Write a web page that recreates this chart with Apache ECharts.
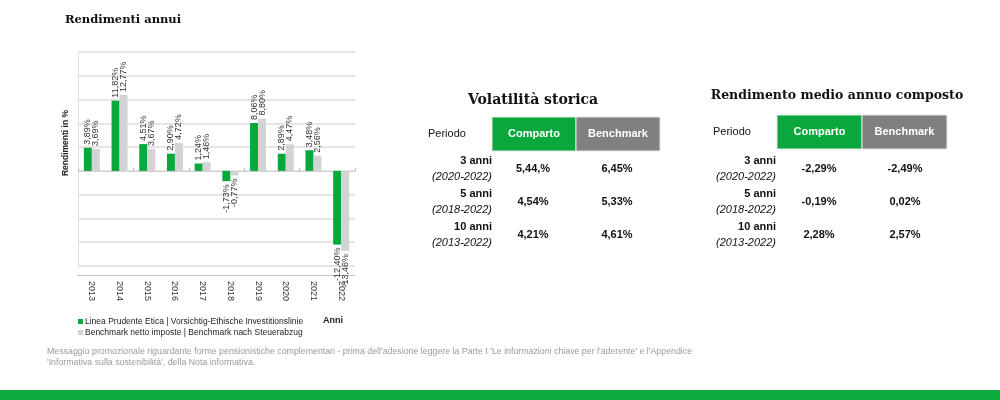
<!DOCTYPE html>
<html><head><meta charset="utf-8">
<script src="https://cdn.jsdelivr.net/npm/echarts@6/dist/echarts.min.js"></script>
<style>html,body{margin:0;padding:0;background:#fff}#c{width:1000px;height:400px}</style>
</head><body><div id="c"></div>
<script>
const years = ['2013','2014','2015','2016','2017','2018','2019','2020','2021','2022'];
const comparto = [3.89, 11.82, 4.51, 2.90, 1.24, -1.73, 8.06, 2.89, 3.48, -12.40];
const benchmark = [3.69, 12.77, 3.67, 4.72, 1.46, -0.77, 8.80, 4.47, 2.56, -13.46];
const seriesNames = ['Linea Prudente Etica | Vorsichtig-Ethische Investitionslinie', 'Benchmark netto imposte | Benchmark nach Steuerabzug'];

const periods = ['3 anni', '5 anni', '10 anni'];
const ranges = ['(2020-2022)', '(2018-2022)', '(2013-2022)'];
const volComparto = ['5,44,%', '4,54%', '4,21%'];
const volBenchmark = ['6,45%', '5,33%', '4,61%'];
const rendComparto = ['-2,29%', '-0,19%', '2,28%'];
const rendBenchmark = ['-2,49%', '0,02%', '2,57%'];

const footer = ["Messaggio promozionale riguardante forme pensionistiche complementari - prima dell'adesione leggere la Parte I 'Le informazioni chiave per l'aderente' e l'Appendice",
  "'Informativa sulla sostenibilità', della Nota informativa."];

const GREEN = '#0aa83c', GRAY = '#d3d3d3', HEADGRAY = '#808080';
const SANS = "'Liberation Sans',Arial,sans-serif";
const SERIF = "'DejaVu Serif',Georgia,serif";

const fmt = v => v.toFixed(2).replace('.', ',') + '%';
function barData(arr) {
  return arr.map(v => ({
    value: v,
    label: v < 0 ? {position: 'bottom', align: 'right'} : {position: 'top', align: 'left'}
  }));
}

function txt(text, x, y, font, fill, align) {
  return {type: 'text', x: x, y: y, silent: true,
    style: {text: text, font: font, fill: fill || '#111', align: align || 'left', verticalAlign: 'middle'}};
}
function table(cx1, cx2, leftX, labelRightX, titleText, titleX, titleY, titleFont, cellX, cellW, cellTop, compArr, benchArr) {
  const g = [];
  g.push(txt(titleText, titleX, titleY, titleFont, '#111', 'center'));
  g.push({type: 'rect', shape: {x: cellX, y: cellTop, width: cellW, height: 34}, style: {fill: GREEN, stroke: '#e6e6e6', lineWidth: 1}});
  g.push({type: 'rect', shape: {x: cellX + cellW, y: cellTop, width: cellW, height: 34}, style: {fill: HEADGRAY, stroke: '#e6e6e6', lineWidth: 1}});
  g.push(txt('Comparto', cellX + cellW / 2, cellTop + 17, 'bold 11px ' + SANS, '#fff', 'center'));
  g.push(txt('Benchmark', cellX + cellW * 1.5, cellTop + 17, 'bold 11px ' + SANS, '#fff', 'center'));
  g.push(txt('Periodo', leftX, cellTop + 17, '11px ' + SANS, '#111', 'left'));
  periods.forEach((p, i) => {
    const y0 = 161 + i * 33;
    g.push(txt(p, labelRightX, y0, 'bold 11px ' + SANS, '#111', 'right'));
    g.push(txt(ranges[i], labelRightX, y0 + 16, 'italic 11px ' + SANS, '#111', 'right'));
    g.push(txt(compArr[i], cx1, y0 + 8, 'bold 11px ' + SANS, '#111', 'center'));
    g.push(txt(benchArr[i], cx2, y0 + 8, 'bold 11px ' + SANS, '#111', 'center'));
  });
  return g;
}

const graphics = [].concat(
  [txt('Rendimenti annui', 65, 20, 'bold 11.5px ' + SERIF, '#111', 'left'),
   {type: 'text', x: 66, y: 143, rotation: Math.PI / 2, silent: true,
    style: {text: 'Rendimenti in %', font: 'bold 8.5px ' + SANS, fill: '#222', align: 'center', verticalAlign: 'middle'}},
   txt('Anni', 323, 321, 'bold 9px ' + SANS, '#222', 'left'),
   txt(footer[0], 47, 352, '8.8px ' + SANS, '#9a9a9a', 'left'),
   txt(footer[1], 47, 363, '8.8px ' + SANS, '#9a9a9a', 'left'),
   {type: 'rect', shape: {x: 0, y: 390, width: 1000, height: 10}, style: {fill: '#0bab3e'}}],
  table(533, 617, 428, 492, 'Volatilità storica', 533, 100, 'bold 14px ' + SERIF, 492, 84, 117, volComparto, volBenchmark),
  table(819, 905, 713, 776, 'Rendimento medio annuo composto', 837, 96, 'bold 12.5px ' + SERIF, 777, 85, 115, rendComparto, rendBenchmark)
);

const chart = echarts.init(document.getElementById('c'), null, {renderer: 'canvas'});
chart.setOption({
  animation: false,
  textStyle: {fontFamily: SANS},
  grid: {left: 78, right: 645, top: 52, bottom: 134},
  legend: {
    left: 73, top: 312, orient: 'vertical', itemWidth: 5, itemHeight: 5, itemGap: 2,
    icon: 'rect', textStyle: {fontSize: 8.5, color: '#222', fontFamily: SANS, padding: [0, 0, 0, -3]},
    data: seriesNames
  },
  xAxis: [
    {type: 'category', data: years, position: 'bottom', offset: 9,
     axisLine: {show: true, onZero: false, lineStyle: {color: '#bfbfbf'}},
     axisTick: {show: false},
     axisLabel: {rotate: -90, fontSize: 9, color: '#333', margin: 6, fontFamily: SANS}},
    {type: 'category', data: years,
     axisLine: {show: true, onZero: true, lineStyle: {color: '#d0d0d0'}},
     axisTick: {show: true, lineStyle: {color: '#bbb'}, length: 3},
     axisLabel: {show: false}}
  ],
  yAxis: {
    type: 'value', min: -16, max: 20, interval: 4,
    axisLabel: {show: false}, axisTick: {show: false},
    axisLine: {show: true, lineStyle: {color: '#e0e0e0'}},
    splitLine: {lineStyle: {color: '#dcdcdc', width: 1.5}}
  },
  series: [
    {name: seriesNames[0], type: 'bar', xAxisIndex: 0, data: barData(comparto), barWidth: 8, barGap: '0%',
     itemStyle: {color: GREEN},
     label: {show: true, rotate: 90, verticalAlign: 'middle', distance: 3, fontSize: 9, color: '#333',
             fontFamily: SANS, formatter: p => fmt(p.value)}},
    {name: seriesNames[1], type: 'bar', xAxisIndex: 0, data: barData(benchmark), barWidth: 8, barGap: '0%',
     itemStyle: {color: GRAY},
     label: {show: true, rotate: 90, verticalAlign: 'middle', distance: 3, fontSize: 9, color: '#333',
             fontFamily: SANS, formatter: p => fmt(p.value)}}
  ],
  graphic: graphics
});
</script></body></html>
